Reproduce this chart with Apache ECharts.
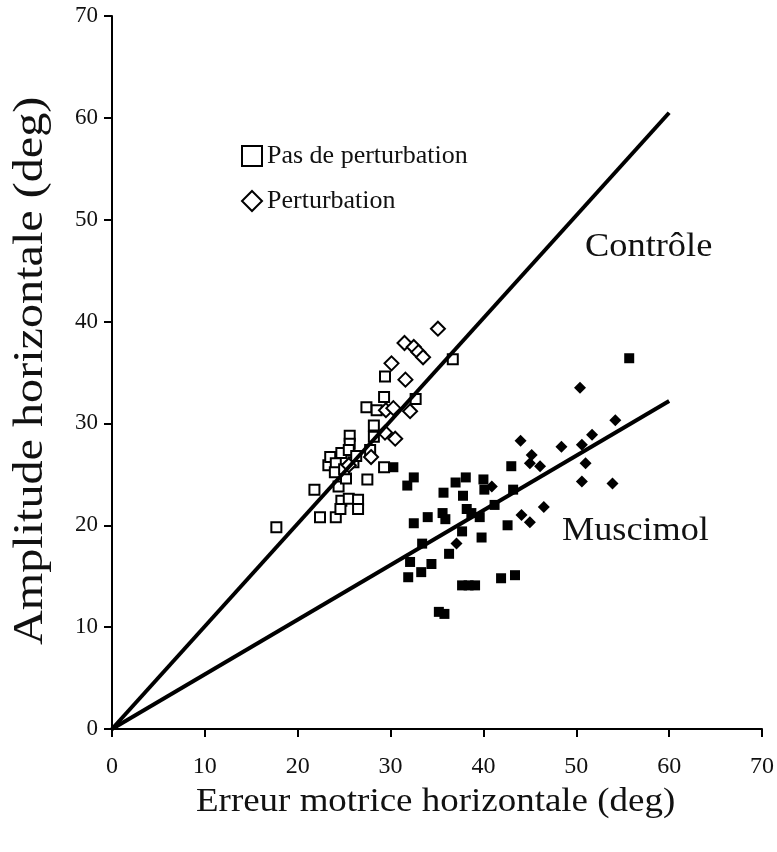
<!DOCTYPE html>
<html>
<head>
<meta charset="utf-8">
<script src="https://cdn.jsdelivr.net/npm/echarts@6/dist/echarts.min.js"></script>
<style>
html,body{margin:0;padding:0;background:#fff;}
#main{width:777px;height:852px;}
</style>
</head>
<body>
<div id="main"></div>
<script>
// Axis ticks
var xTicks = [0, 10, 20, 30, 40, 50, 60, 70];
var yTicks = [0, 10, 20, 30, 40, 50, 60, 70];

// Contrôle — Pas de perturbation (open squares)
var ctrlNoPert = [
  [17.7,19.8],[21.8,23.5],[22.4,20.8],[24.1,20.8],[23.3,25.9],[23.5,26.7],[24.1,26.1],
  [24.7,27.1],[24.0,25.2],[24.4,23.8],[25.2,24.6],[25.6,28.8],[25.6,28.0],[25.5,27.4],
  [24.7,22.4],[25.5,22.6],[26.5,22.5],[26.5,21.6],[24.6,21.6],[26.0,26.2],[27.5,24.5],
  [27.8,27.4],[28.2,29.8],[28.2,28.7],[27.4,31.6],[28.5,31.3],[29.3,32.6],[29.4,34.6],
  [29.3,25.7],[32.7,32.4],[36.7,36.3],[25.0,25.5],[26.3,26.8]
];
// Contrôle — Perturbation (open diamonds)
var ctrlPert = [
  [35.1,39.3],[31.5,37.9],[32.5,37.5],[33.0,37.0],[33.5,36.5],[30.1,35.9],[31.6,34.3],
  [32.1,31.2],[30.5,28.5],[27.9,26.7],[29.5,31.3],[30.3,31.5],[29.4,29.1],[25.5,25.9]
];
// Muscimol — Pas de perturbation (filled squares)
var muscNoPert = [
  [30.3,25.7],[32.5,24.7],[31.8,23.9],[35.7,23.2],[37.0,24.2],[38.1,24.7],[40.0,24.5],
  [40.1,23.5],[43.0,25.8],[43.2,23.5],[37.8,22.9],[41.2,22.0],[34.0,20.8],[32.5,20.2],
  [35.6,21.2],[35.9,20.6],[38.2,21.6],[38.7,21.2],[39.6,20.8],[37.7,19.4],[39.8,18.8],
  [42.6,20.0],[33.4,18.2],[32.1,16.4],[31.9,14.9],[33.3,15.4],[34.4,16.2],[36.3,17.2],
  [37.7,14.1],[38.4,14.1],[39.1,14.1],[41.9,14.8],[43.4,15.1],[35.2,11.5],[35.8,11.3],
  [55.7,36.4]
];
// Muscimol — Perturbation (filled diamonds)
var muscPert = [
  [44.0,28.3],[45.2,26.9],[45.0,26.1],[46.1,25.8],[48.4,27.7],[50.6,27.9],[51.7,28.9],
  [54.2,30.3],[51.0,26.1],[50.6,24.3],[53.9,24.1],[46.5,21.8],[44.1,21.0],[45.0,20.3],
  [50.4,33.5],[37.1,18.2],[40.9,23.8]
];
// Regression lines
var controlLine = [[0,0],[60,60.5]];
var muscimolLine = [[0,0],[60,32.2]];

// Texts
var xTitle = 'Erreur motrice horizontale (deg)';
var yTitle = 'Amplitude horizontale (deg)';
var controlLabel = 'Contrôle';
var muscimolLabel = 'Muscimol';

var FONT = 'Liberation Serif';
var INK = '#111';
var chart = echarts.init(document.getElementById('main'));
var axisCommon = {
  min: 0, max: 70, interval: 10,
  axisLine: {show: true, onZero: false, lineStyle: {color: '#000', width: 2}},
  axisTick: {show: true, length: 8, lineStyle: {color: '#000', width: 2}},
  splitLine: {show: false}
};
chart.setOption({
  animation: false,
  backgroundColor: '#fff',
  grid: {left: 112, right: 12, top: 16, bottom: 123},
  xAxis: Object.assign({}, axisCommon, {
    type: 'value',
    axisLabel: {fontFamily: FONT, fontSize: 24, color: INK, margin: 26,
      formatter: function (v) { return xTicks.indexOf(v) >= 0 ? String(v) : ''; }}
  }),
  yAxis: Object.assign({}, axisCommon, {
    type: 'value',
    axisLabel: {fontFamily: FONT, fontSize: 23, color: INK, margin: 14,
      formatter: function (v) { return yTicks.indexOf(v) >= 0 ? String(v) : ''; }}
  }),
  legend: {
    orient: 'vertical', left: 236, top: 138, itemGap: 19,
    itemWidth: 20, itemHeight: 20,
    textStyle: {fontFamily: FONT, fontSize: 26, color: INK},
    data: [{name: 'Pas de perturbation', icon: 'rect'}, {name: 'Perturbation', icon: 'diamond'}]
  },
  series: [
    {name: 'Pas de perturbation', type: 'scatter', symbol: 'rect', symbolSize: 10, data: ctrlNoPert,
     itemStyle: {color: '#fff', borderColor: '#000', borderWidth: 2, opacity: 1}, z: 2},
    {name: 'Perturbation', type: 'scatter', symbol: 'diamond', symbolSize: 14, data: ctrlPert,
     itemStyle: {color: '#fff', borderColor: '#000', borderWidth: 2, opacity: 1}, z: 2},
    {name: 'Muscimol pas de perturbation', type: 'scatter', symbol: 'rect', symbolSize: 10, data: muscNoPert,
     itemStyle: {color: '#000', opacity: 1}, z: 2},
    {name: 'Muscimol perturbation', type: 'scatter', symbol: 'diamond', symbolSize: 12, data: muscPert,
     itemStyle: {color: '#000', opacity: 1}, z: 2},
    {name: 'Contrôle', type: 'line', data: controlLine, symbol: 'none',
     lineStyle: {color: '#000', width: 4}, z: 5},
    {name: 'Muscimol', type: 'line', data: muscimolLine, symbol: 'none',
     lineStyle: {color: '#000', width: 4}, z: 5}
  ],
  graphic: [
    {type: 'text', x: 585, y: 230, scaleX: 1.07,
     style: {text: controlLabel, fontFamily: FONT, fontSize: 34, fill: INK, textVerticalAlign: 'top'}},
    {type: 'text', x: 562, y: 514, scaleX: 1.065,
     style: {text: muscimolLabel, fontFamily: FONT, fontSize: 34, fill: INK, textVerticalAlign: 'top'}},
    {type: 'text', x: 196, y: 786, scaleX: 1.12,
     style: {text: xTitle, fontFamily: FONT, fontSize: 33, fill: INK, textVerticalAlign: 'top'}},
    {type: 'text', x: 9, y: 645, rotation: Math.PI / 2, scaleX: 1.12,
     style: {text: yTitle, fontFamily: FONT, fontSize: 43, fill: INK, textVerticalAlign: 'top'}}
  ]
});
</script>
</body>
</html>
